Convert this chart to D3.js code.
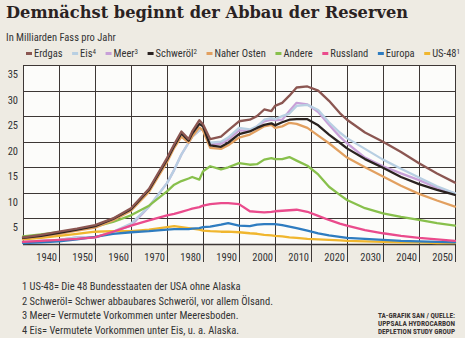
<!DOCTYPE html>
<html><head><meta charset="utf-8">
<script src="https://cdn.jsdelivr.net/npm/d3@7"></script>
<style>
html,body{margin:0;padding:0;background:#eeebe3;}
svg{display:block;}
</style></head>
<body>
<svg id="c" width="465" height="338"></svg>
<script>
// ---- data ----
const years = [1930,1935,1940,1945,1950,1955,1960,1965,1970,1972,1974,1976,1977,1979,1980,1982,1985,1987,1990,1993,1995,1997,1999,2000,2002,2004,2006,2009,2012,2015,2018,2020,2025,2030,2035,2040,2045,2050];
const erdgas     = [1.3,1.8,2.4,3.0,3.7,5.0,7.0,10.8,16.8,19.5,22.0,20.5,22.0,24.2,23.4,20.5,21.0,22.2,24.0,24.3,25.0,26.3,26.0,27.0,27.6,29.0,30.6,30.8,30.0,28.0,25.6,24.3,21.8,20.0,18.0,15.8,13.8,12.0];
const eis        = [0.4,0.6,0.8,1.3,1.3,2.4,4.0,7.3,11.9,14.5,17.5,19.8,21.0,22.2,22.5,19.8,20.0,20.8,22.7,22.4,23.0,24.3,24.6,24.4,25.0,25.5,27.0,27.2,26.2,23.8,21.8,20.7,18.6,16.5,14.7,13.0,11.3,9.9];
const meer       = [0.4,0.6,0.8,1.3,1.3,2.4,3.6,7.3,11.9,14.5,17.5,19.8,21.0,22.2,22.5,19.6,19.6,20.4,22.2,22.1,23.0,24.0,24.3,24.2,24.3,26.0,27.6,27.3,25.8,23.3,21.0,19.7,16.9,15.2,13.8,12.5,11.0,9.9];
const schweroel  = [1.2,1.6,2.2,2.8,3.5,4.9,6.8,10.6,16.5,19.2,21.6,20.2,21.6,23.5,23.0,19.3,19.0,19.8,21.5,22.0,22.7,23.3,23.6,23.2,23.8,24.3,24.4,24.4,23.2,21.4,19.8,18.7,16.6,14.9,13.1,11.7,10.6,9.6];
const naherOsten = [1.1,1.5,2.0,2.6,3.2,4.6,6.5,10.2,16.0,18.8,21.0,19.8,21.0,22.8,22.2,18.8,18.6,19.3,20.8,21.4,22.2,23.0,23.3,22.7,23.0,23.7,23.5,22.7,21.2,19.7,18.0,16.9,15.0,13.2,11.4,9.8,8.5,7.3];
const andere     = [1.5,1.9,2.3,2.8,3.4,4.3,5.6,7.5,10.3,11.6,12.3,12.8,13.1,12.6,14.2,15.2,14.6,15.0,15.8,15.5,15.6,16.5,16.8,16.6,16.6,17.0,16.3,15.3,13.6,11.2,9.6,8.6,7.0,6.0,5.3,4.7,4.1,3.6];
const russland   = [0.4,0.6,0.8,1.0,1.3,2.4,3.6,4.6,5.6,5.9,6.3,6.7,6.9,7.2,7.5,7.8,8.0,8.0,7.8,6.4,6.3,6.2,6.3,6.4,6.5,6.6,6.7,6.3,5.5,4.7,4.0,3.6,2.7,2.1,1.6,1.2,0.9,0.6];
const europa     = [0.2,0.3,0.5,0.9,1.4,2.0,2.3,2.5,2.8,2.9,2.9,2.9,3.0,3.1,3.3,3.4,3.8,4.1,3.6,3.5,3.8,3.9,3.9,3.9,3.7,3.4,3.1,2.6,2.1,1.7,1.4,1.2,1.0,0.8,0.6,0.5,0.4,0.3];
const us48       = [0.9,1.2,1.6,2.0,2.4,2.5,2.5,2.8,3.3,3.5,3.3,3.1,3.0,2.8,2.6,2.5,2.4,2.4,2.3,2.1,2.0,1.8,1.7,1.6,1.5,1.3,1.2,1.0,0.9,0.8,0.7,0.6,0.5,0.4,0.3,0.3,0.2,0.2];

const seriesNames = ["Erdgas","Eis","Meer","Schweröl","Naher Osten","Andere","Russland","Europa","US-48"];
const seriesSup   = ["","4","3","2","","","","","1"];
const seriesVals  = [erdgas,eis,meer,schweroel,naherOsten,andere,russland,europa,us48];
const yTicks = [5,10,15,20,25,30,35];
const xTicks = [1940,1950,1960,1970,1980,1990,2000,2010,2020,2030,2040,2050];
const title = "Demnächst beginnt der Abbau der Reserven";
const subtitle = "In Milliarden Fass pro Jahr";
const footnotes = [
  "1 US-48= Die 48 Bundesstaaten der USA ohne Alaska",
  "2 Schweröl= Schwer abbaubares Schweröl, vor allem Ölsand.",
  "3 Meer= Vermutete Vorkommen unter Meeresboden.",
  "4 Eis= Vermutete Vorkommen unter Eis, u. a. Alaska."
];
const source = ["TA-GRAFIK SAN / QUELLE:","UPPSALA HYDROCARBON","DEPLETION STUDY GROUP"];

// ---- styles ----
const colors = {"Erdgas":"#8b5651","Eis":"#b8cfe2","Meer":"#c8a0d8","Schweröl":"#2a2220","Naher Osten":"#e2a060",
  "Andere":"#88c04c","Russland":"#ea4b8c","Europa":"#2e7cc0","US-48":"#f0b62e"};
const drawOrder = ["Meer","Eis","US-48","Europa","Russland","Andere","Naher Osten","Schweröl","Erdgas"];
const sans = "'Liberation Sans Narrow','Roboto Condensed','Liberation Sans',sans-serif";

const svg = d3.select("#c");
const L=23,R=455,T=65,B=244;
const x = d3.scaleLinear().domain([1930,2050]).range([L,R]);
const y = d3.scaleLinear().domain([0,35]).range([B,T]);

// title
svg.append("text").attr("x",6).attr("y",18).text(title)
  .attr("font-family","'DejaVu Serif',serif").attr("font-weight","bold").attr("font-size",16.5)
  .attr("fill","#2a2222").attr("textLength",402).attr("lengthAdjust","spacingAndGlyphs");
svg.append("text").attr("x",6).attr("y",41).text(subtitle)
  .attr("font-family",sans).attr("font-size",10.5).attr("fill","#333");

// plot bg
svg.append("rect").attr("x",L).attr("y",T).attr("width",R-L).attr("height",B-T).attr("fill","#fcfcfa");

// grid
const grid = svg.append("g").attr("stroke","#3d3735").attr("stroke-width",1);
grid.selectAll("line.h").data(yTicks).join("line")
  .attr("x1",L).attr("x2",R).attr("y1",d=>Math.round(y(d))+0.5).attr("y2",d=>Math.round(y(d))+0.5);
grid.selectAll("line.v").data(xTicks).join("line")
  .attr("y1",T).attr("y2",262).attr("x1",d=>Math.round(x(d))+0.5).attr("x2",d=>Math.round(x(d))+0.5);
grid.append("line").attr("x1",L+0.5).attr("x2",L+0.5).attr("y1",T).attr("y2",B);
grid.append("line").attr("x1",L).attr("x2",R+1).attr("y1",B+0.5).attr("y2",B+0.5).attr("stroke-width",1.5);

// y labels (hang below gridline)
svg.append("g").selectAll("text").data(yTicks).join("text")
  .attr("x",18).attr("y",d=>y(d)+13).attr("text-anchor","end").text(d=>d)
  .attr("font-family",sans).attr("font-size",10.5).attr("fill","#333");
// x labels
svg.append("g").selectAll("text").data(xTicks).join("text")
  .attr("x",d=>x(d)-2).attr("y",261).attr("text-anchor","end").text(d=>d)
  .attr("font-family",sans).attr("font-size",10.5).attr("fill","#333");

// lines
const line = d3.line().x((d,i)=>x(years[i])).y(d=>y(d)).curve(d3.curveLinear);
const gl = svg.append("g");
drawOrder.forEach(n=>{
  const i = seriesNames.indexOf(n);
  gl.append("path").datum(seriesVals[i]).attr("d",line).attr("fill","none")
    .attr("stroke",colors[n]).attr("stroke-width",2.3).attr("stroke-linejoin","round").attr("stroke-linecap","round");
});

// legend
const lg = svg.append("g");
const items = seriesNames.map((n,i)=>{
  const g = lg.append("g");
  g.append("line").attr("x1",0).attr("x2",6).attr("y1",-3.5).attr("y2",-3.5).attr("stroke",colors[n]).attr("stroke-width",3);
  const t = g.append("text").attr("x",8).attr("y",0).attr("font-family",sans).attr("font-size",10.5).attr("fill","#333");
  t.append("tspan").text(n);
  if(seriesSup[i]) t.append("tspan").attr("dy",-3.5).attr("font-size",7).text(seriesSup[i]);
  const w = 8 + t.node().getComputedTextLength();
  return {g,w};
});
const totalW = d3.sum(items,d=>d.w);
const start=26, end=460;
const gap = (end-start-totalW)/(items.length-1);
let cx = start;
items.forEach(it=>{ it.g.attr("transform",`translate(${cx},57)`); cx += it.w + gap; });

// footnotes
svg.append("g").selectAll("text").data(footnotes).join("text")
  .attr("x",22).attr("y",(d,i)=>290+i*14.5).text(d=>d)
  .attr("font-family",sans).attr("font-size",10.5).attr("fill","#333");
// source
svg.append("g").selectAll("text").data(source).join("text")
  .attr("x",378).attr("y",(d,i)=>318+i*7.8).text(d=>d)
  .attr("font-family",sans).attr("font-size",7.2).attr("font-weight","bold").attr("fill","#3a3434")
  .attr("textLength",77).attr("lengthAdjust","spacingAndGlyphs");
</script>
</body></html>
